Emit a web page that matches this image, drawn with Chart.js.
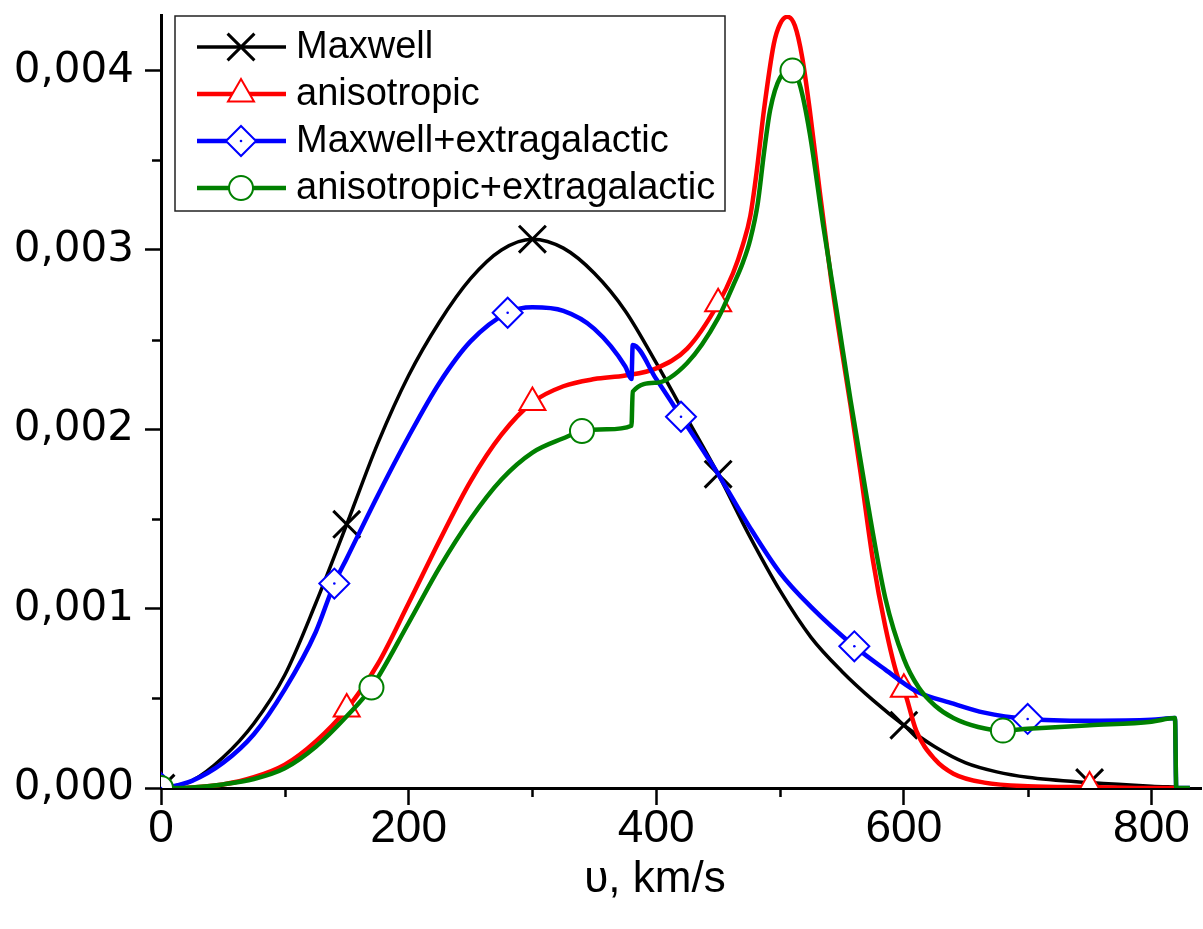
<!DOCTYPE html>
<html>
<head>
<meta charset="utf-8">
<script src="https://cdn.jsdelivr.net/npm/chart.js@4.4.1/dist/chart.umd.min.js"></script>
<style>
  html, body { margin: 0; padding: 0; background: #fff; }
  #wrap { width: 1203px; height: 929px; position: relative; }
</style>
</head>
<body>
<div id="wrap"><canvas id="chart"></canvas></div>
<script>
/* ── data: v in km/s, f in (km/s)^-1 ── */
const maxwellV = [0, 10, 25, 50, 75, 100, 125, 150, 175, 200, 225, 250, 275, 300, 325, 350, 375, 400, 425, 450,
                  475, 500, 525, 550, 575, 600, 625, 650, 675, 700, 750, 800, 820];
const maxwellF = [0, 0.00001, 0.00004, 0.00017, 0.00036, 0.00063, 0.00103, 0.00147, 0.00192, 0.0023, 0.0026, 0.00284,
                  0.003, 0.00306, 0.00301, 0.00287, 0.00266, 0.00237, 0.00206, 0.00175, 0.00141, 0.0011, 0.00084,
                  0.00065, 0.00049, 0.00035, 0.00023, 0.00014, 0.00009, 0.00006, 0.00003, 0.00001, 0.000005];
const maxwellMarks = [0, 150, 300, 450, 600, 750];

const anisoV = [0, 10, 25, 50, 75, 100, 125, 150, 175, 200, 225, 250, 275, 300, 325, 350, 375, 400, 425, 450,
                462, 470, 476, 481, 487, 495, 500, 506, 512, 518, 524, 532, 541, 549, 557, 565, 575, 585, 595, 600,
                610, 625, 640, 665, 700, 750, 800, 820];
const anisoF = [0, 0, 0.000003, 0.00002, 0.00006, 0.00013, 0.00026, 0.00044, 0.00069, 0.00103, 0.00138, 0.00171,
                0.00197, 0.00215, 0.00224, 0.00228, 0.0023, 0.00234, 0.00245, 0.0027, 0.00287, 0.00303, 0.00319,
                0.00343, 0.00378, 0.00415, 0.00426, 0.0043, 0.00425, 0.00407, 0.00378, 0.00333, 0.00285, 0.00248,
                0.00213, 0.00176, 0.00127, 0.0009, 0.00062, 0.00055, 0.00032, 0.00016, 0.00008, 0.00003, 0.00001,
                0.000005, 0, 0];
const anisoMarks = [0, 150, 300, 450, 600, 750];

const maxExtV = [0, 10, 25, 50, 75, 100, 125, 140, 150, 175, 200, 225, 250, 280, 300, 325, 350, 375, 380, 381, 400,
                 420, 450, 475, 500, 525, 560, 585, 610, 640, 665, 700, 750, 800, 819, 820, 831];
const maxExtF = [0, 0.00001, 0.00004, 0.00014, 0.0003, 0.00055, 0.00087, 0.00114, 0.00128, 0.00163, 0.00196,
                 0.00226, 0.00249, 0.00265, 0.00268, 0.00266, 0.00256, 0.00235, 0.00228, 0.00247, 0.00228, 0.00207,
                 0.00175, 0.00146, 0.0012, 0.00101, 0.00079, 0.00066, 0.00054, 0.00047, 0.00042, 0.000385,
                 0.000375, 0.00038, 0.00039, 0, 0];
const maxExtMarks = [0, 140, 280, 420, 560, 700];

const anisoExtV = [0, 10, 25, 50, 75, 100, 125, 150, 170, 200, 225, 250, 275, 300, 325, 340, 360, 380, 381, 400,
                   425, 450, 462, 470, 476, 482, 487, 492, 500, 510, 516, 524, 535, 546, 557, 570, 585, 600, 612,
                   625, 640, 660, 680, 700, 750, 800, 819, 820, 831];
const anisoExtF = [0, 0, 0.000003, 0.00002, 0.00005, 0.00011, 0.00023, 0.0004, 0.00056, 0.00092, 0.00123, 0.0015,
                   0.00172, 0.00187, 0.00195, 0.00199, 0.002, 0.00202, 0.00221, 0.00226, 0.00237, 0.00262, 0.0028,
                   0.00293, 0.00306, 0.00326, 0.00354, 0.00378, 0.00396, 0.004, 0.00392, 0.00365, 0.00313, 0.00265,
                   0.00216, 0.00162, 0.00106, 0.00072, 0.00056, 0.00046, 0.00039, 0.00034, 0.00032, 0.00033,
                   0.00035, 0.00037, 0.00039, 0, 0];
const anisoExtMarks = [0, 170, 340, 510, 680];

const xMajorTicks = [0, 200, 400, 600, 800];
const xMinorTicks = [100, 300, 500, 700];
const yMajorTicks = [0, 0.001, 0.002, 0.003, 0.004];
const yMinorTicks = [0.0005, 0.0015, 0.0025, 0.0035];

const xTitle = 'υ, km/s';

/* ── helpers ── */
const pts = (vs, fs) => vs.map((v, i) => ({ x: v, y: fs[i] }));

function series(label, vs, fs, marks, color, style, radius, width, order) {
    return {
        label, order,
        data: pts(vs, fs),
        borderColor: color,
        borderWidth: width,
        pointStyle: style,
        pointBorderColor: color,
        pointBackgroundColor: '#fff',
        pointBorderWidth: style === 'crossRot' ? 3 : 2,
        pointRadius: ctx => (ctx.raw && marks.includes(ctx.raw.x)) ? radius : 0,
        pointHoverRadius: 0,
        cubicInterpolationMode: 'monotone',
        fill: false
    };
}

const datasets = [
    series('Maxwell', maxwellV, maxwellF, maxwellMarks, '#000000', 'crossRot', 19, 3.5, 4),
    series('anisotropic', anisoV, anisoF, anisoMarks, '#ff0000', 'triangle', 15, 4.5, 3),
    series('Maxwell+extragalactic', maxExtV, maxExtF, maxExtMarks, '#0000ff', 'rectRot', 15, 4.5, 2),
    series('anisotropic+extragalactic', anisoExtV, anisoExtF, anisoExtMarks, '#008000', 'circle', 12, 4.5, 1)
];
// little dot in the middle of every diamond
datasets.push({
    label: '_dots', order: 0, showLine: false,
    data: maxExtMarks.map(v => ({ x: v, y: maxExtF[maxExtV.indexOf(v)] })),
    pointRadius: 1.3, pointStyle: 'circle', pointBorderWidth: 0,
    pointBackgroundColor: '#0000ff', pointBorderColor: '#0000ff'
});

/* legend marker drawing (same shapes as the plot) */
function drawMarker(ctx, style, x, y, r, color, bw) {
    ctx.save();
    ctx.strokeStyle = color; ctx.fillStyle = '#fff'; ctx.lineWidth = bw;
    ctx.beginPath();
    if (style === 'crossRot') {
        const d = r * Math.SQRT1_2;
        ctx.moveTo(x - d, y - d); ctx.lineTo(x + d, y + d);
        ctx.moveTo(x + d, y - d); ctx.lineTo(x - d, y + d);
        ctx.stroke();
    } else if (style === 'triangle') {
        for (let k = 0; k < 3; k++) {
            const a = k * 2 * Math.PI / 3;
            const px = x + Math.sin(a) * r, py = y - Math.cos(a) * r;
            k ? ctx.lineTo(px, py) : ctx.moveTo(px, py);
        }
        ctx.closePath(); ctx.fill(); ctx.stroke();
    } else if (style === 'rectRot') {
        ctx.moveTo(x - r, y); ctx.lineTo(x, y - r); ctx.lineTo(x + r, y); ctx.lineTo(x, y + r);
        ctx.closePath(); ctx.fill(); ctx.stroke();
        ctx.beginPath(); ctx.fillStyle = color; ctx.arc(x, y, 1.3, 0, 2 * Math.PI); ctx.fill();
    } else {
        ctx.arc(x, y, r, 0, 2 * Math.PI); ctx.fill(); ctx.stroke();
    }
    ctx.restore();
}

const framePlugin = {
    id: 'frame',
    afterDraw(chart) {
        const ctx = chart.ctx;
        const xs = chart.scales.x, ys = chart.scales.y;
        ctx.save();
        // minor ticks
        ctx.strokeStyle = '#000'; ctx.lineWidth = 2.5;
        ctx.beginPath();
        yMinorTicks.forEach(v => {
            const py = Math.round(ys.getPixelForValue(v)) + 0.5;
            ctx.moveTo(xs.left - 9, py); ctx.lineTo(xs.left, py);
        });
        xMinorTicks.forEach(v => {
            const px = Math.round(xs.getPixelForValue(v)) + 0.5;
            ctx.moveTo(px, ys.bottom); ctx.lineTo(px, ys.bottom + 9);
        });
        ctx.stroke();

        // axis title
        ctx.fillStyle = '#000';
        ctx.font = '44px "Liberation Sans", Arial, sans-serif';
        ctx.textAlign = 'center'; ctx.textBaseline = 'middle';
        ctx.fillText(xTitle, xs.left + (xs.right - xs.left) * 0.475, 880);

        // legend box
        const bx = 175, by = 16, bw = 550, bh = 195;
        ctx.fillStyle = '#fff'; ctx.fillRect(bx, by, bw, bh);
        ctx.strokeStyle = '#222'; ctx.lineWidth = 1.5; ctx.strokeRect(bx, by, bw, bh);
        ctx.font = '38px "Liberation Sans", Arial, sans-serif';
        ctx.textAlign = 'left'; ctx.textBaseline = 'middle';
        chart.data.datasets.slice(0, 4).forEach((ds, i) => {
            const y = 47 + i * 47;
            ctx.strokeStyle = ds.borderColor; ctx.lineWidth = ds.borderWidth;
            ctx.beginPath(); ctx.moveTo(197, y); ctx.lineTo(286, y); ctx.stroke();
            const r = [19, 15, 15, 12][i];
            drawMarker(ctx, ds.pointStyle, 241, y, r, ds.borderColor, ds.pointBorderWidth);
            ctx.fillStyle = '#000';
            ctx.fillText(ds.label, 296, y + 1);
        });
        ctx.restore();
    }
};

new Chart(document.getElementById('chart'), {
    type: 'line',
    data: { datasets },
    options: {
        responsive: true, maintainAspectRatio: false, animation: false,
        layout: { autoPadding: false, padding: { top: 15, right: 2, left: 0, bottom: 0 } },
        plugins: { legend: { display: false }, tooltip: { enabled: false } },
        scales: {
            x: {
                type: 'linear', min: 0, max: 840,
                afterFit: s => { s.height = 141; s.paddingLeft = 0; s.paddingRight = 0; },
                afterBuildTicks: s => { s.ticks = xMajorTicks.map(v => ({ value: v })); },
                ticks: {
                    color: '#000', padding: -3, maxRotation: 0,
                    font: { family: '"Liberation Sans", Arial, sans-serif', size: 46 },
                    callback: v => String(v)
                },
                grid: { drawOnChartArea: false, drawTicks: true, tickLength: 17, tickWidth: 2.5, tickColor: '#000' },
                border: { display: true, color: '#000', width: 3 }
            },
            y: {
                type: 'linear', min: 0, max: 0.00431,
                afterFit: s => { s.width = 161; s.paddingTop = 0; s.paddingBottom = 0; },
                afterBuildTicks: s => { s.ticks = yMajorTicks.map(v => ({ value: v })); },
                ticks: {
                    color: '#000', padding: 11,
                    font: { family: '"DejaVu Sans", sans-serif', size: 42 },
                    callback: v => v.toFixed(3).replace('.', ',')
                },
                grid: { drawOnChartArea: false, drawTicks: true, tickLength: 16, tickWidth: 2.5, tickColor: '#000' },
                border: { display: true, color: '#000', width: 3 }
            }
        }
    },
    plugins: [framePlugin]
});
</script>
</body>
</html>
